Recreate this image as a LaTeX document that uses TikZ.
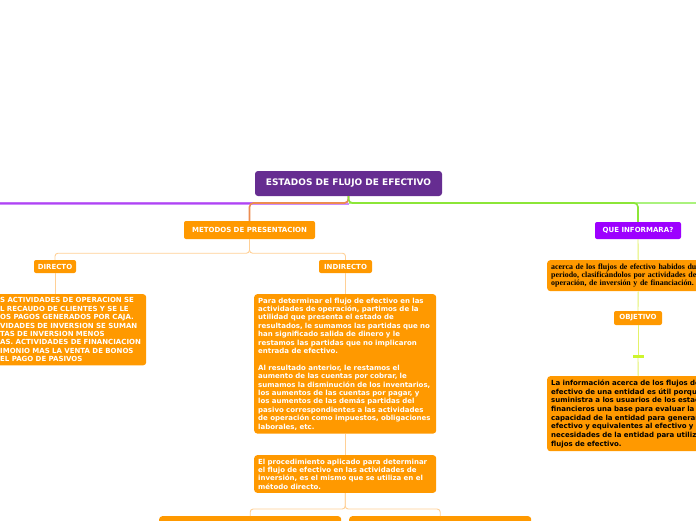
\documentclass[tikz,border=0pt]{standalone}
\usepackage{fontspec}
\setmainfont{DejaVu Sans}
\newfontfamily\acercafont{Liberation Serif}
\usepackage{tikz}
\usetikzlibrary{positioning, calc}
\definecolor{rootpurple}{RGB}{102, 45, 145}
\definecolor{brightviolet}{RGB}{157, 0, 255}
\definecolor{mainorange}{RGB}{255, 153, 0}
\definecolor{peachline}{RGB}{255, 208, 150}
\definecolor{busorange}{RGB}{236, 140, 80}
\definecolor{buspurple}{RGB}{160, 30, 240}
\definecolor{buspurplelight}{RGB}{205, 140, 252}
\definecolor{busgreen}{RGB}{140, 230, 55}
\definecolor{busgreenlight}{RGB}{170, 242, 125}
\definecolor{limeline}{RGB}{228, 242, 105}
\definecolor{limemark}{RGB}{205, 245, 45}
\tikzset{
  rootnode/.style={rectangle, rounded corners=3pt, fill=rootpurple, text=white, font=\fontsize{9}{10}\selectfont\bfseries, minimum width=187pt, minimum height=25pt, inner sep=0pt},
  pill/.style={rectangle, rounded corners=2pt, fill=mainorange, text=white, font=\fontsize{7}{8.4}\selectfont\bfseries, minimum height=13pt, inner sep=0pt},
  violetpill/.style={pill, fill=brightviolet},
  textbox/.style={rectangle, rounded corners=3pt, fill=mainorange, text=white, font=\fontsize{7}{8.4}\selectfont\bfseries, align=left, text width=174pt, inner xsep=4pt, inner ysep=3.5pt, anchor=north west},
  darkbox/.style={textbox, text=black},
  busline/.style={line width=1.6pt, rounded corners=4pt},
  branchline/.style={line width=0.9pt, peachline, rounded corners=3pt},
  limebranch/.style={line width=0.9pt, limeline}
}

\begin{document}
\begin{tikzpicture}[x=1pt, y=-1pt]
    \fill[white] (0, 0) rectangle (696, 520);
    \useasboundingbox (0, 0) rectangle (696, 520);
    \clip (0, 0) rectangle (696, 520);

    % root and bus
    \node[rootnode] (root) at (348.5, 183.5) {ESTADOS DE FLUJO DE EFECTIVO};
    \coordinate (leftend) at (-20, 203);
    \coordinate (rightend) at (720, 203);

    % left branch
    \node[pill, minimum width=131pt, minimum height=18pt] (metodos) at (249.5, 230) {METODOS DE PRESENTACION};
    \node[pill, minimum width=42pt] (directo) at (55, 266.5) {DIRECTO};
    \node[pill, minimum width=53pt] (indirecto) at (345.5, 266.5) {INDIRECTO};

    \node[textbox, text width=142pt] (dirbox) at (-4, 294) {%
      S ACTIVIDADES DE OPERACION SE\\
      L RECAUDO DE CLIENTES Y SE LE\\
      OS PAGOS GENERADOS POR CAJA.\\
      VIDADES DE INVERSION SE SUMAN\\
      TAS DE INVERSION MENOS\\
      AS. ACTIVIDADES DE FINANCIACION\\
      IMONIO MAS LA VENTA DE BONOS\\
      EL PAGO DE PASIVOS};

    \node[textbox] (ind1) at (254, 294) {%
      Para determinar el flujo de efectivo en las\\
      actividades de operación, partimos de la\\
      utilidad que presenta el estado de\\
      resultados, le sumamos las partidas que no\\
      han significado salida de dinero y le\\
      restamos las partidas que no implicaron\\
      entrada de efectivo.\\[8.4pt]
      Al resultado anterior, le restamos el\\
      aumento de las cuentas por cobrar, le\\
      sumamos la disminución de los inventarios,\\
      los aumentos de las cuentas por pagar, y\\
      los aumentos de las demás partidas del\\
      pasivo correspondientes a las actividades\\
      de operación como impuestos, obligaciones\\
      laborales, etc.};

    \node[textbox] (ind2) at (254, 455) {%
      El procedimiento aplicado para determinar\\
      el flujo de efectivo en las actividades de\\
      inversión, es el mismo que se utiliza en el\\
      método directo.};

    \node[textbox, minimum height=40pt] (botleft) at (159, 516) {};
    \node[textbox, minimum height=40pt] (botright) at (349, 516) {};

    % right branch
    \node[violetpill, minimum width=86pt, minimum height=17pt] (que) at (638, 230.5) {QUE INFORMARA?};
    \node[darkbox, font=\acercafont\fontsize{7.9}{8.3}\selectfont\bfseries] (acerca) at (547, 260) {%
      acerca de los flujos de efectivo habidos durante el\\
      periodo, clasificándolos por actividades de\\
      operación, de inversión y de financiación.};
    \node[pill, minimum width=48pt, minimum height=14pt] (objetivo) at (638, 318) {OBJETIVO};
    \node[rectangle, fill=limemark, minimum width=11pt, minimum height=3pt, inner sep=0pt] (mark) at (638, 356.5) {};
    \node[darkbox, font=\fontsize{7}{8.7}\selectfont\bfseries] (info) at (547, 376) {%
      La información acerca de los flujos de\\
      efectivo de una entidad es útil porque\\
      suministra a los usuarios de los estados\\
      financieros una base para evaluar la\\
      capacidad de la entidad para generar\\
      efectivo y equivalentes al efectivo y las\\
      necesidades de la entidad para utilizar\\
      flujos de efectivo.};

    % connectors
    \draw[line width=1.2pt, buspurplelight] ([yshift=-1pt]root.south |- leftend) -- ([yshift=-1pt]leftend);
    \draw[line width=1.1pt, buspurple, rounded corners=4pt] (root.south) -- (root.south |- leftend) -- (leftend);
    \draw[busline, busorange] (root.south) -- (root.south |- leftend) -| (metodos.north);
    \draw[busline, busgreenlight] (root.south |- rightend) -- (rightend);
    \draw[busline, busgreen] (root.south) -- (root.south |- leftend) -| (que.north);

    \draw[branchline] (metodos.south) -- ++(0, 14) -| (directo.north);
    \draw[branchline] (metodos.south) -- ++(0, 14) -| (indirecto.north);
    \draw[branchline] (directo.south) -- (directo.south |- dirbox.north);
    \draw[branchline] (indirecto.south) -- (indirecto.south |- ind1.north);
    \draw[branchline] (ind1.south) -- (ind2.north);
    \draw[branchline] (ind2.south) -- ++(0, 16) -| (botleft.north);
    \draw[branchline] (ind2.south) -- ++(0, 16) -| (botright.north);

    \draw[limebranch] (que.south) -- (acerca.north);
    \draw[limebranch] (acerca.south) -- (objetivo.north);
    \draw[limebranch] (objetivo.south) -- (mark.north);
    \draw[limebranch] (mark.south) -- (info.north);
\end{tikzpicture}
\end{document}
